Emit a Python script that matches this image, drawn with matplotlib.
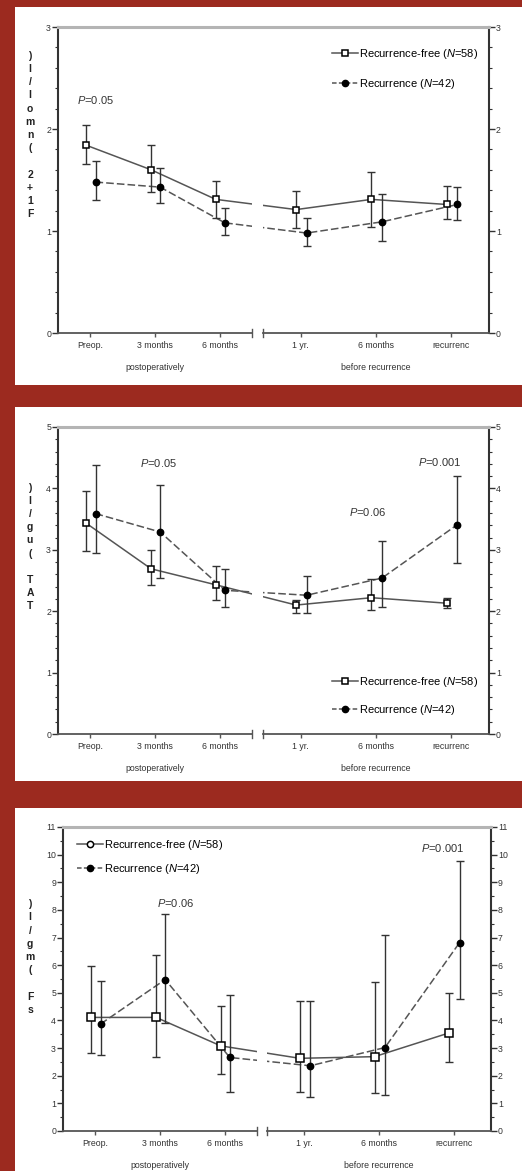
import matplotlib
matplotlib.use("Agg")
import matplotlib.pyplot as plt
from matplotlib.ticker import MultipleLocator
from matplotlib.patches import Rectangle
from matplotlib.lines import Line2D

plt.rcParams['font.family'] = ['Liberation Sans', 'DejaVu Sans']
plt.rcParams['mathtext.fontset'] = 'custom'
plt.rcParams['mathtext.it'] = 'Liberation Sans:italic'
plt.rcParams['mathtext.rm'] = 'Liberation Sans'

# x categories (two groups of three)
post_labels = ["Preop.", "3 months", "6 months"]
pre_labels = ["1 yr.", "6 months", "recurrenc"]
group_labels = ["postoperatively", "before recurrence"]
legend_free = "Recurrence-free ($\\it{N}$=58)"
legend_rec = "Recurrence ($\\it{N}$=42)"

# panel 1: F1+2 (nmol/l)
f12_free = [1.84, 1.60, 1.31, 1.21, 1.31, 1.26]
f12_free_lo = [1.66, 1.38, 1.13, 1.03, 1.04, 1.12]
f12_free_hi = [2.04, 1.84, 1.49, 1.39, 1.58, 1.44]
f12_rec = [1.48, 1.43, 1.08, 0.98, 1.09, 1.26]
f12_rec_lo = [1.30, 1.27, 0.96, 0.85, 0.90, 1.11]
f12_rec_hi = [1.69, 1.62, 1.23, 1.13, 1.36, 1.43]

# panel 2: TAT (ug/l)
tat_free = [3.43, 2.69, 2.43, 2.10, 2.22, 2.13]
tat_free_lo = [2.98, 2.42, 2.18, 1.97, 2.02, 2.05]
tat_free_hi = [3.95, 2.99, 2.73, 2.19, 2.52, 2.22]
tat_rec = [3.59, 3.29, 2.34, 2.26, 2.54, 3.41]
tat_rec_lo = [2.95, 2.54, 2.07, 1.97, 2.07, 2.78]
tat_rec_hi = [4.38, 4.05, 2.68, 2.57, 3.14, 4.21]

# panel 3: sF (mg/l)
sf_free = [4.11, 4.11, 3.08, 2.63, 2.69, 3.55]
sf_free_lo = [2.84, 2.69, 2.06, 1.42, 1.36, 2.51]
sf_free_hi = [5.96, 6.36, 4.53, 4.71, 5.40, 5.01]
sf_rec = [3.87, 5.48, 2.66, 2.36, 3.02, 6.82]
sf_rec_lo = [2.75, 3.90, 1.42, 1.22, 1.30, 4.77]
sf_rec_hi = [5.43, 7.87, 4.92, 4.71, 7.08, 9.77]

W, H = 522, 1171
RED = '#9c2a1f'
LINE = '#555555'
EBAR = '#333333'

fig = plt.figure(figsize=(W / 100, H / 100), dpi=100)
fig.patch.set_facecolor(RED)


def box(x0, y0, x1, y1):
    return [x0 / W, 1 - y1 / H, (x1 - x0) / W, (y1 - y0) / H]


def fy(y):
    return 1 - y / H


def panel(white, left_px, right_px, ytop, ybot, ymax, minor, ylabel, ylab_y,
          free, free_lo, free_hi, rec, rec_lo, rec_hi,
          pvals, leg_ax, leg_loc, leg_anchor, leg_space, ms_sq, ms_ci, free_leg_marker):
    fig.add_artist(Rectangle((white[0] / W, fy(white[3])), (white[2] - white[0]) / W,
                             (white[3] - white[1]) / H, transform=fig.transFigure,
                             facecolor='white', edgecolor='none', zorder=0))
    axL = fig.add_axes(box(left_px[0], ytop, left_px[1], ybot))
    axR = fig.add_axes(box(right_px[0], ytop, right_px[1], ybot))
    for ax in (axL, axR):
        ax.set_facecolor('none')
        ax.set_xlim(-0.5, 2.5)
        ax.set_ylim(0, ymax)
        ax.yaxis.set_major_locator(MultipleLocator(1))
        ax.yaxis.set_minor_locator(MultipleLocator(minor))
        ax.spines['top'].set_visible(False)
        ax.spines['bottom'].set_color(LINE)
        ax.spines['bottom'].set_linewidth(1.3)
        ax.set_xticks([0, 1, 2])
        ax.tick_params(axis='x', length=3, width=1, color=LINE, labelsize=6.3, pad=3,
                       labelcolor='#333333')
        ax.tick_params(axis='y', which='major', length=4, width=1, color='#333333',
                       labelsize=6.3, pad=1, labelcolor='#333333')
        ax.tick_params(axis='y', which='minor', length=2.5, width=0.8, color='#333333')
    axL.spines['right'].set_visible(False)
    axL.spines['left'].set_color('#333333')
    axL.spines['left'].set_linewidth(1.5)
    axR.spines['left'].set_visible(False)
    axR.spines['right'].set_color('#333333')
    axR.spines['right'].set_linewidth(1.5)
    axR.yaxis.tick_right()
    axL.set_xticklabels(post_labels)
    axR.set_xticklabels(pre_labels)
    axL.annotate(group_labels[0], xy=(0.5, 0), xycoords='axes fraction', xytext=(0, -25),
                 textcoords='offset points', ha='center', va='center', fontsize=6.3,
                 color='#333333')
    axR.annotate(group_labels[1], xy=(0.5, 0), xycoords='axes fraction', xytext=(0, -25),
                 textcoords='offset points', ha='center', va='center', fontsize=6.3,
                 color='#333333')
    # break marks at the segment ends
    axL.plot([1, 1], [-0.013, 0.013], transform=axL.transAxes, color=LINE, lw=1, clip_on=False)
    axR.plot([0, 0], [-0.013, 0.013], transform=axR.transAxes, color=LINE, lw=1, clip_on=False)
    # grey top frame line across both segments
    fig.add_artist(Line2D([left_px[0] / W, right_px[1] / W], [fy(ytop), fy(ytop)],
                          transform=fig.transFigure, color='#b4b4b4', lw=2.2))

    # stacked y label
    fig.text(30 / W, fy(ylab_y), "\n".join(reversed(ylabel)), ha='center', va='center',
             fontsize=7.5, fontweight='bold', linespacing=1.4, color='#222222')

    def to_other(ax_from, ax_to, x, y):
        p = ax_from.transData.transform((x, y))
        return ax_to.transData.inverted().transform(p)

    series = [
        (free, free_lo, free_hi, -0.06, 's', 'white', '-', ms_sq),
        (rec, rec_lo, rec_hi, 0.08, 'o', 'black', (0, (5, 2)), ms_ci),
    ]
    for vals, lo, hi, off, mk, fc, ls, ms in series:
        xs = [i + off for i in range(3)]
        # line across the break, clipped at each segment edge
        xr_in_l = to_other(axR, axL, 0 + off, vals[3])[0]
        xl_in_r = to_other(axL, axR, 2 + off, vals[2])[0]
        axL.plot(xs + [xr_in_l], vals[:4], color=LINE, lw=1.1, ls=ls, zorder=2)
        axR.plot([xl_in_r] + xs, vals[2:], color=LINE, lw=1.1, ls=ls, zorder=2)
        for ax, part in ((axL, slice(0, 3)), (axR, slice(3, 6))):
            v = vals[part]
            err = [[a - b for a, b in zip(v, lo[part])], [b - a for a, b in zip(v, hi[part])]]
            ax.errorbar(xs, v, yerr=err, fmt='none', ecolor=EBAR, elinewidth=1,
                        capsize=3, capthick=1, zorder=3)
            ax.plot(xs, v, ls='none', marker=mk, ms=ms, mfc=fc, mec='black',
                    mew=1.1, zorder=4)

    for ax_name, x, y, txt in pvals:
        ax = axL if ax_name == 'L' else axR
        ax.text(x, y, "$\\it{P}$=" + txt, ha='center', va='center', fontsize=8,
                color='#333333')

    handles = [Line2D([], [], color=LINE, lw=1.1, ls='-', marker=free_leg_marker, ms=4.5,
                      mfc='white', mec='black', mew=1.1),
               Line2D([], [], color=LINE, lw=1.1, ls=(0, (3, 1.5)), marker='o', ms=4.5,
                      mfc='black', mec='black')]
    lax = axL if leg_ax == 'L' else axR
    lax.legend(handles, [legend_free, legend_rec], loc=leg_loc, bbox_to_anchor=leg_anchor,
               frameon=False, fontsize=8, handlelength=2.3, handletextpad=0.1,
               labelspacing=leg_space, borderaxespad=0)


panel((15, 7, 522, 385), (58, 252), (263, 489), 27, 333, 3, 0.2, "F1+2 (nmol/l)", 135,
      f12_free, f12_free_lo, f12_free_hi, f12_rec, f12_rec_lo, f12_rec_hi,
      [('L', 0.08, 2.28, "0.05")],
      'R', 'upper right', (0.97, 0.95), 1.45, 4.3, 4.5, 's')

panel((15, 407, 522, 781), (58, 252), (263, 489), 427, 734, 5, 0.2, "TAT (ug/l)", 547,
      tat_free, tat_free_lo, tat_free_hi, tat_rec, tat_rec_lo, tat_rec_hi,
      [('L', 1.05, 4.42, "0.05"), ('R', 0.89, 3.61, "0.06"), ('R', 1.84, 4.43, "0.001")],
      'R', 'lower right', (0.97, 0.04), 1.25, 4.3, 4.5, 's')

panel((15, 808, 522, 1171), (63, 257), (267, 491), 827, 1131, 11, 0.5, "sF (mg/l)", 957,
      sf_free, sf_free_lo, sf_free_hi, sf_rec, sf_rec_lo, sf_rec_hi,
      [('L', 1.24, 8.26, "0.06"), ('R', 1.85, 10.25, "0.001")],
      'L', 'upper left', (0.05, 0.98), 0.9, 5.5, 4.5, 'o')

fig.savefig("out.png", dpi=100, facecolor=RED)
